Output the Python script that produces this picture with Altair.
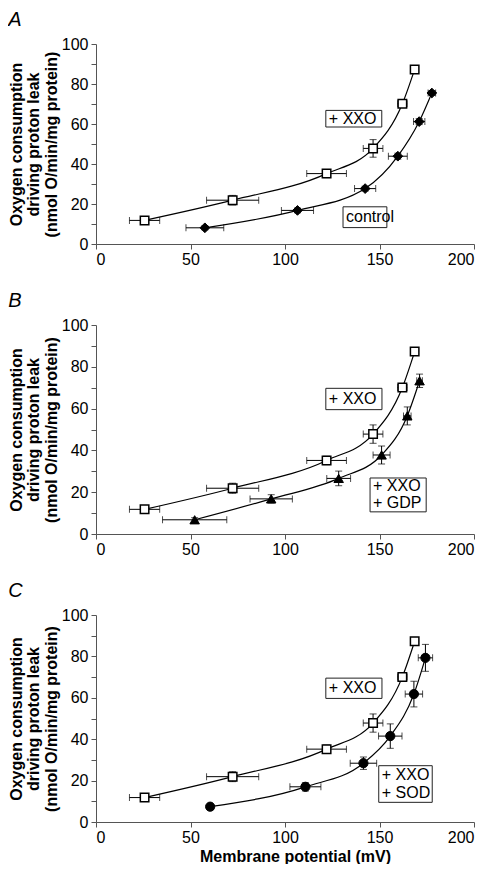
import altair as alt
import pandas as pd

# ---- data ----
mv_xxo = [25.7, 72.3, 122.0, 146.6, 162.1, 168.6]
o2_xxo = [11.8, 21.9, 35.2, 47.8, 70.1, 87.3]
mv_err_xxo = [8.0, 13.8, 10.5, 5.2, 2.5, 2.0]
o2_err_xxo = [1.2, 2.4, 2.0, 4.4, 1.8, 1.8]

mv_ctrl = [57.6, 106.6, 142.4, 159.7, 171.0, 177.7]
o2_ctrl = [8.1, 16.8, 27.7, 43.9, 61.2, 75.5]
mv_err_ctrl = [10.0, 8.5, 5.6, 5.0, 3.0, 2.0]
o2_err_ctrl = [1.0, 1.2, 1.2, 1.5, 1.5, 1.2]

mv_gdp = [52.2, 92.7, 128.4, 151.1, 164.7, 171.2]
o2_gdp = [6.8, 16.8, 26.6, 37.8, 56.5, 73.3]
mv_err_gdp = [17.0, 11.2, 6.3, 4.5, 2.0, 1.5]
o2_err_gdp = [1.0, 2.0, 3.5, 4.3, 4.3, 3.2]

mv_sod = [60.4, 110.8, 141.5, 155.7, 168.2, 174.3]
o2_sod = [7.4, 17.0, 28.4, 41.5, 61.8, 79.3]
mv_err_sod = [1.5, 8.2, 7.0, 6.2, 4.6, 3.8]
o2_err_sod = [1.0, 2.0, 3.0, 5.9, 6.2, 6.5]

# annotation boxes (data units) and their text lines
box_a = [("+ XXO", 121.6, 151.2, 58.5, 66.8), ("control", 130.7, 153.9, 8.2, 18.6)]
box_b = [("+ XXO", 121.6, 151.3, 59.5, 69.7)]
box_b2 = (["+ XXO", "+ GDP"], 145.0, 174.7, 10.6, 26.8)
box_c = [("+ XXO", 121.6, 151.3, 59.7, 69.5)]
box_c2 = (["+ XXO", "+ SOD"], 149.6, 177.9, 9.5, 27.2)

FONT = "Liberation Sans"


def series_df(mv, o2, mve, o2e, name):
    return pd.DataFrame({
        "mv": mv, "o2": o2,
        "mv_lo": [a - b for a, b in zip(mv, mve)],
        "mv_hi": [a + b for a, b in zip(mv, mve)],
        "o2_lo": [a - b for a, b in zip(o2, o2e)],
        "o2_hi": [a + b for a, b in zip(o2, o2e)],
        "series": name,
    })


def boxes_df(single, multi):
    rects, texts = [], []
    for t, x1, x2, y1, y2 in single:
        rects.append({"x1": x1, "x2": x2, "y1": y1, "y2": y2})
        texts.append({"tx": x1 + 1.6, "ty": (y1 + y2) / 2, "t": t})
    if multi is not None:
        lines, x1, x2, y1, y2 = multi
        rects.append({"x1": x1, "x2": x2, "y1": y1, "y2": y2})
        n = len(lines)
        step = (y2 - y1) / n
        for i, t in enumerate(lines):
            texts.append({"tx": x1 + 1.6, "ty": y2 - step * (i + 0.5), "t": t})
    return pd.DataFrame(rects), pd.DataFrame(texts)


W = 378


def panel(letter, series, marker_styles, single, multi, height, xtitle):
    xs = alt.Scale(domain=[0, 200], nice=False)
    ys = alt.Scale(domain=[0, 100], nice=False)
    xaxis = alt.Axis(values=[0, 50, 100, 150, 200], tickCount=5, tickSize=5, labelPadding=2,
                     labelOverlap=False,
                     title="Membrane potential (mV)" if xtitle else None,
                     titlePadding=3, titleX=W / 2 + 10)
    yaxis = alt.Axis(values=list(range(0, 101, 10)), tickCount=11, tickSize=5, labelPadding=3,
                     labelOverlap=False,
                     labelExpr="datum.value % 20 == 0 ? datum.label : ''",
                     title=["Oxygen consumption", "driving proton leak",
                            "(nmol O/min/mg protein)"],
                     titleLineHeight=17.5, titlePadding=2)
    df = pd.concat(series, ignore_index=True)
    base = alt.Chart(df)
    layers = [
        base.mark_line(interpolate="monotone", color="black", strokeWidth=1.2).encode(
            x=alt.X("mv:Q", scale=xs, axis=xaxis),
            y=alt.Y("o2:Q", scale=ys, axis=yaxis),
            detail="series:N"),
        base.mark_rule(color="black", strokeWidth=1).encode(x="mv_lo:Q", x2="mv_hi:Q", y="o2:Q"),
        base.mark_tick(orient="vertical", size=7, thickness=1, color="black").encode(x="mv_lo:Q", y="o2:Q"),
        base.mark_tick(orient="vertical", size=7, thickness=1, color="black").encode(x="mv_hi:Q", y="o2:Q"),
        base.mark_rule(color="black", strokeWidth=1).encode(x="mv:Q", y="o2_lo:Q", y2="o2_hi:Q"),
        base.mark_tick(orient="horizontal", size=7, thickness=1, color="black").encode(x="mv:Q", y="o2_lo:Q"),
        base.mark_tick(orient="horizontal", size=7, thickness=1, color="black").encode(x="mv:Q", y="o2_hi:Q"),
    ]
    for s, style in zip(series, marker_styles):
        layers.append(alt.Chart(s).mark_point(opacity=1, **style).encode(x="mv:Q", y="o2:Q"))
    rects, texts = boxes_df(single, multi)
    layers.append(alt.Chart(rects).mark_rect(fill="white", stroke="#222", strokeWidth=1).encode(
        x="x1:Q", x2="x2:Q", y="y1:Q", y2="y2:Q"))
    layers.append(alt.Chart(texts).mark_text(align="left", baseline="middle", font=FONT,
                                             fontSize=16, color="black").encode(
        x="tx:Q", y="ty:Q", text="t:N"))
    return alt.layer(*layers).properties(
        width=W, height=height,
        title=alt.Title(letter, anchor="start", frame="bounds", fontStyle="italic",
                        fontWeight="normal", fontSize=20, font=FONT, offset=6, color="black"))


sq = dict(shape="square", filled=True, fill="white", stroke="black", strokeWidth=1.5, size=72)
dia = dict(shape="diamond", filled=True, fill="black", stroke="black", strokeWidth=1, size=95)
tri = dict(shape="triangle-up", filled=True, fill="black", stroke="black", strokeWidth=1, size=90)
cir = dict(shape="circle", filled=True, fill="black", stroke="black", strokeWidth=1, size=85)

xxo = series_df(mv_xxo, o2_xxo, mv_err_xxo, o2_err_xxo, "xxo")
ctrl = series_df(mv_ctrl, o2_ctrl, mv_err_ctrl, o2_err_ctrl, "ctrl")
gdp = series_df(mv_gdp, o2_gdp, mv_err_gdp, o2_err_gdp, "gdp")
sod = series_df(mv_sod, o2_sod, mv_err_sod, o2_err_sod, "sod")

pa = panel("A", [xxo, ctrl], [sq, dia], box_a, None, 200, False)
pb = panel("B", [xxo, gdp], [sq, tri], box_b, box_b2, 209, False)
pc = panel("C", [xxo, sod], [sq, cir], box_c, box_c2, 207, True)

chart = alt.vconcat(pa, pb, pc, spacing=24).properties(
    padding={"left": 0, "top": 2, "right": 0, "bottom": 0}
).configure_axis(
    labelFont=FONT, labelFontSize=16, labelColor="black",
    titleFont=FONT, titleFontSize=16, titleFontWeight="bold", titleColor="black",
    domainColor="#555", tickColor="#555", grid=False,
).configure_view(stroke=None)

chart.save("out.html", embed_options={"renderer": "svg", "actions": False})
